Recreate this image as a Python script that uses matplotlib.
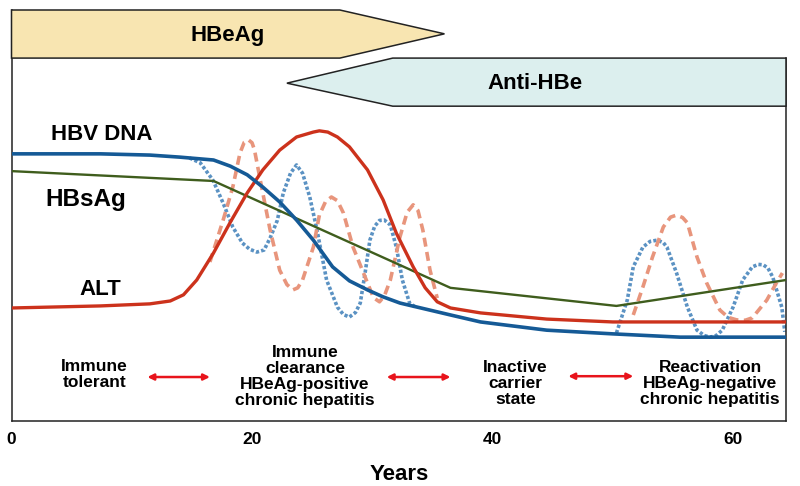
import matplotlib
matplotlib.use("Agg")
import matplotlib.pyplot as plt
from matplotlib.patches import Polygon

plt.rcParams['font.family'] = ['Liberation Sans', 'DejaVu Sans']
plt.rcParams['font.weight'] = 'bold'

# ---- data (years, relative level 0-100) ----
dna_x = [0, 7.4, 11.5, 14.0, 16.8, 18.2, 19.6, 20.9, 22.3, 23.7, 25.1, 26.7, 28.1, 29.6, 30.9, 32.3, 36.5, 39.0, 44.5, 50.0, 55.6, 64.4]
dna_y = [65.0, 65.0, 64.7, 64.2, 63.5, 62.0, 59.9, 56.9, 53.3, 48.9, 44.0, 37.5, 34.1, 31.9, 30.2, 28.7, 25.8, 24.1, 22.1, 21.2, 20.4, 20.4]

alt_x = [0, 7.4, 11.5, 13.2, 14.3, 15.4, 16.8, 18.2, 19.6, 20.9, 22.3, 23.7, 25.1, 25.6, 26.3, 27.1, 28.1, 29.6, 30.9, 32.0, 33.4, 34.4, 35.4, 36.5, 39.0, 44.5, 50.0, 64.4]
alt_y = [27.5, 28.0, 28.5, 29.2, 30.7, 34.3, 40.9, 48.4, 55.5, 61.1, 65.9, 69.1, 70.3, 70.6, 70.3, 69.1, 66.7, 61.1, 53.8, 45.7, 37.5, 32.4, 29.0, 27.5, 26.3, 24.8, 24.1, 24.1]

hbsag_x = [0, 16.8, 36.5, 50.3, 64.4]
hbsag_y = [60.8, 58.4, 32.4, 28.0, 34.3]

dna_flare1_x = [14.8, 15.7, 16.75, 17.6, 18.4, 19.2, 19.8, 20.4, 21.0, 21.5, 22.1, 22.6, 23.2, 23.7, 24.2, 24.8, 25.4, 26.2, 27.1, 27.6, 28.1, 28.6, 29.0, 29.4, 29.8, 30.2, 30.6, 31.0, 31.5, 32.0, 32.5, 33.1, 33.7]
dna_flare1_y = [64.0, 62.8, 58.6, 53.0, 47.2, 43.3, 41.8, 41.1, 41.6, 44.5, 48.8, 55.5, 60.3, 62.3, 60.3, 54.5, 46.5, 34.3, 27.7, 25.9, 25.3, 26.4, 28.7, 36.0, 44.0, 47.4, 48.8, 48.9, 47.7, 42.3, 34.3, 28.7, 27.5]

dna_flare2_x = [50.3, 51.2, 51.7, 52.5, 53.1, 53.7, 54.2, 54.5, 55.3, 56.2, 57.0, 57.6, 58.1, 58.6, 59.1, 60.0, 60.8, 61.6, 62.1, 62.5, 62.9, 63.3, 64.05, 64.3]
dna_flare2_y = [21.4, 29.4, 37.5, 42.3, 43.7, 44.0, 43.4, 42.3, 36.0, 27.7, 22.1, 20.8, 20.4, 20.8, 22.1, 27.7, 34.3, 37.5, 38.1, 38.0, 37.2, 35.0, 27.7, 21.7]

alt_flare1_x = [16.5, 17.6, 18.4, 19.0, 19.35, 19.7, 20.0, 20.2, 20.8, 21.5, 22.3, 22.9, 23.4, 23.8, 24.2, 25.1, 25.6, 26.1, 26.6, 27.1, 27.6, 28.4, 29.6, 30.1, 30.6, 31.0, 31.5, 32.3, 32.9, 33.4, 33.8, 34.2, 34.8, 35.4]
alt_flare1_y = [38.7, 48.9, 56.9, 65.2, 67.8, 68.4, 67.7, 66.0, 56.9, 46.5, 36.7, 33.2, 31.9, 32.4, 34.3, 42.3, 50.1, 53.3, 54.5, 53.6, 50.6, 42.3, 33.6, 30.0, 29.0, 30.4, 34.3, 44.8, 50.8, 52.6, 51.2, 46.5, 36.7, 29.9]

alt_flare2_x = [51.7, 52.5, 53.3, 54.2, 54.8, 55.3, 55.8, 56.2, 57.0, 57.8, 58.9, 59.6, 60.3, 61.0, 61.6, 62.8, 63.6, 64.1]
alt_flare2_y = [25.8, 32.6, 39.9, 47.2, 49.6, 50.1, 49.5, 48.2, 39.9, 33.6, 27.0, 25.2, 24.6, 24.5, 25.1, 29.4, 33.6, 36.0]

xticks = [0, 20, 40, 60]
phases = ["Immune\ntolerant",
          "Immune\nclearance\nHBeAg-positive\nchronic hepatitis",
          "Inactive\ncarrier\nstate",
          "Reactivation\nHBeAg-negative\nchronic hepatitis"]
phase_x = [6.9, 24.4, 41.9, 58.1]

# ---- figure ----
fig = plt.figure(figsize=(8, 4.86), dpi=100)
W, H = 800, 486
ax = fig.add_axes([11.5 / W, (H - 421) / H, (786 - 11.5) / W, (421 - 10) / H])
ax.set_xlim(0, 64.4)
ax.set_ylim(0, 100)

# serological banners
hbeag = Polygon([(0, 100), (27.3, 100), (36.0, 94.2), (27.3, 88.3), (0, 88.3)],
                closed=True, facecolor='#f8e5b1', edgecolor='#222222', lw=1.1, clip_on=False, zorder=3)
ax.add_patch(hbeag)
anti = Polygon([(22.9, 82.2), (31.7, 88.3), (64.4, 88.3), (64.4, 76.6), (31.7, 76.6)],
               closed=True, facecolor='#dcefee', edgecolor='#222222', lw=1.1, clip_on=False, zorder=3)
ax.add_patch(anti)
ax.text(18.0, 93.8, "HBeAg", ha='center', va='center', fontsize=16, fontweight='bold', zorder=4)
ax.text(43.5, 82.2, "Anti-HBe", ha='center', va='center', fontsize=16, fontweight='bold', zorder=4)

# curves
common = dict(solid_joinstyle='round', dash_joinstyle='round')
ax.plot(dna_flare1_x, dna_flare1_y, color='#5b92c3', lw=2.6, ls=(0, (0.9, 0.6)), zorder=2, **common)
ax.plot(dna_flare2_x, dna_flare2_y, color='#5b92c3', lw=2.6, ls=(0, (0.9, 0.6)), zorder=2, **common)
ax.plot(alt_flare1_x, alt_flare1_y, color='#e8957c', lw=2.6, ls=(0, (2.5, 1.5)), zorder=2, **common)
ax.plot(alt_flare2_x, alt_flare2_y, color='#e8957c', lw=2.6, ls=(0, (2.5, 1.5)), zorder=2, **common)
ax.plot(hbsag_x, hbsag_y, color='#3f5d1d', lw=1.7, zorder=3, **common)
ax.plot(alt_x, alt_y, color='#cc321c', lw=2.4, zorder=3, solid_capstyle='butt', **common)
ax.plot(dna_x, dna_y, color='#155a96', lw=2.6, zorder=3, solid_capstyle='butt', **common)

ax.text(7.5, 69.7, "HBV DNA", ha='center', va='center', fontsize=16, fontweight='bold')
ax.text(6.2, 53.8, "HBsAg", ha='center', va='center', fontsize=17.5, fontweight='bold')
ax.text(7.4, 31.9, "ALT", ha='center', va='center', fontsize=16, fontweight='bold')

# phases
phase_y = [11.2, 10.9, 9.2, 9.2]
for t, x, y in zip(phases, phase_x, phase_y):
    ax.text(x, y, t, ha='center', va='center', fontsize=12.5, fontweight='bold',
            linespacing=1.08)
for x0, x1, y in [(11.3, 16.5, 10.7), (31.2, 36.5, 10.7), (46.3, 51.7, 10.9)]:
    ax.annotate("", xy=(x1, y), xytext=(x0, y),
                arrowprops=dict(arrowstyle='<|-|>', color='#e8141c', lw=1.8,
                                mutation_scale=9, shrinkA=0, shrinkB=0))

# axes styling
ax.spines['top'].set_visible(False)
ax.spines['right'].set_bounds(0, 88.3)
for s in ['left', 'right', 'bottom']:
    ax.spines[s].set_linewidth(1.1)
    ax.spines[s].set_color('#222222')
ax.set_yticks([])
ax.set_xticks(xticks)
ax.set_xticklabels([str(v) for v in xticks], fontsize=12.5, fontweight='bold')
ax.tick_params(axis='x', length=0, pad=8)
ax.set_xlabel("Years", fontsize=16, fontweight='bold', labelpad=12)

fig.savefig("out.png", dpi=100)
